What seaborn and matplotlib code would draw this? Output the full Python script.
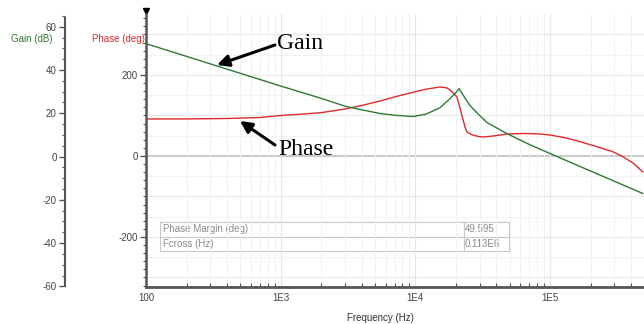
import matplotlib
matplotlib.use("Agg")
import matplotlib.pyplot as plt
import matplotlib.ticker as mticker
import numpy as np
import pandas as pd
import seaborn as sns

# values
gain_freq = [100, 1000, 2000, 3000, 4000, 5460, 7000, 9600, 12000, 15230, 18070, 20000, 21100,
             23000, 25400, 29000, 34000, 47900, 70000, 100000, 200000, 489000]
gain_db = [52.2, 32.6, 26.9, 23.3, 21.6, 19.9, 19.1, 18.5, 19.6, 22.6, 26.8, 29.6, 31.4,
           27.7, 23.6, 19.9, 15.7, 10.6, 5.6, 1.4, -6.7, -17.1]

phase_freq = [100, 200, 400, 700, 1000, 1500, 2000, 3000, 4000, 5460, 7000, 9120, 12000, 15230,
              17180, 18500, 20370, 22000, 23340, 24160, 26000, 29000, 31770, 38000, 47900, 65000,
              84100, 100000, 130000, 166700, 220000, 293000, 350000, 412000, 489000]
phase_deg = [91.4, 91.5, 92.6, 95.0, 100.0, 103.7, 107.0, 116.0, 124.7, 135.8, 145.7, 155.6, 165.0,
             170.4, 168.0, 160.0, 145.7, 103.7, 71.6, 59.3, 53.0, 48.5, 46.9, 49.4, 54.3, 55.6,
             54.3, 51.8, 45.0, 35.3, 23.5, 10.4, -2.5, -17.3, -39.5]

xtick_vals = [100, 1000, 10000, 100000]
xtick_labels = ["100", "1E3", "1E4", "1E5"]

table_rows = [["Phase Margin (deg)", "49.595"], ["Fcross (Hz)", "0.113E6"]]

gain_df = pd.DataFrame({"freq": gain_freq, "gain": gain_db})
phase_df = pd.DataFrame({"freq": phase_freq, "phase": phase_deg})

sns.set_style("white")
plt.rcParams["font.family"] = ["Liberation Sans", "DejaVu Sans"]
plt.rcParams["axes.unicode_minus"] = False

GREEN = "#2e7a34"
RED = "#e0292b"
AXC = "#555555"

fig = plt.figure(figsize=(6.44, 3.24), dpi=100)
ax = fig.add_axes([146 / 644, 1 - 287 / 324, 498 / 644, 273 / 324])
ax2 = ax.twinx()

ax.set_xscale("log")
ax.set_xlim(100, 10 ** (2 + 498 / 134.7))
ax.set_ylim(-323.5, 350.6)
ax2.set_ylim(-60.3, 65.9)

# grid
ax.grid(True, which="major", axis="x", color="#e6e6e6", lw=0.8)
ax.grid(True, which="minor", axis="x", color="#f1f1f1", lw=0.7)
for v in range(-300, 301, 50):
    ax.axhline(v, color="#e8e8e8" if v % 100 == 0 else "#f3f3f3", lw=0.8, zorder=0)
ax.axhline(0, color="#cccccc", lw=1.5, zorder=0)
ax.set_axisbelow(True)

sns.lineplot(data=phase_df, x="freq", y="phase", ax=ax, color=RED, lw=1.0)
sns.lineplot(data=gain_df, x="freq", y="gain", ax=ax2, color=GREEN, lw=1.0)
ax.set_xlabel("")
ax.set_ylabel("")
ax2.set_ylabel("")

# phase axis (inner)
for s in ["top", "right"]:
    ax.spines[s].set_visible(False)
ax.spines["left"].set_color(AXC)
ax.spines["left"].set_linewidth(1.8)
ax.spines["bottom"].set_color(AXC)
ax.spines["bottom"].set_linewidth(2)
ax.yaxis.set_major_locator(mticker.MultipleLocator(200))
ax.yaxis.set_minor_locator(mticker.MultipleLocator(20))
ax.tick_params(axis="y", which="major", length=4, width=1, color=AXC, labelsize=7, labelcolor="#444444", pad=2)
ax.tick_params(axis="y", which="minor", length=2.5, width=0.8, color=AXC, left=True)

ax.xaxis.set_major_locator(mticker.FixedLocator(xtick_vals))
ax.xaxis.set_major_formatter(mticker.FixedFormatter(xtick_labels))
ax.xaxis.set_minor_locator(mticker.LogLocator(base=10, subs=np.arange(2, 10)))
ax.xaxis.set_minor_formatter(mticker.NullFormatter())
ax.tick_params(axis="x", which="major", direction="in", length=4, width=1, color=AXC,
               labelsize=7, labelcolor="#444444", pad=4)
ax.tick_params(axis="x", which="minor", direction="in", length=3, width=0.8, color=AXC, bottom=True)

# gain axis (outer)
for s in ["top", "right", "bottom"]:
    ax2.spines[s].set_visible(False)
ax2.yaxis.set_ticks_position("left")
ax2.spines["left"].set_visible(True)
ax2.spines["left"].set_position(("outward", 81 * 72 / 100))
ax2.spines["left"].set_bounds(-60, 64)
ax2.spines["left"].set_color(AXC)
ax2.spines["left"].set_linewidth(1.5)
ax2.yaxis.set_major_locator(mticker.MultipleLocator(20))
ax2.yaxis.set_minor_locator(mticker.MultipleLocator(5))
ax2.tick_params(axis="y", which="major", length=4, width=1, color=AXC, labelsize=7,
                labelcolor="#444444", pad=2, left=True, right=False, labelleft=True, labelright=False)
ax2.tick_params(axis="y", which="minor", length=2.5, width=0.8, color=AXC, left=True, right=False)

# marker on top of phase spine
ax.plot([0], [1.01], marker="v", color="k", ms=5, transform=ax.transAxes, clip_on=False)

# axis titles
fig.text(32 / 644, 1 - 39 / 324, "Gain (dB)", color=GREEN, fontsize=7, ha="center", va="center")
fig.text(145 / 644, 1 - 39 / 324, "Phase (deg)", color=RED, fontsize=7, ha="right", va="center")
fig.text(380 / 644, 1 - 318 / 324, "Frequency (Hz)", color="#333333", fontsize=7, ha="center", va="center")

# annotations
ax.text(277, 324 - 49, "Gain", transform=None, fontsize=17, family="Liberation Serif",
        ha="left", va="baseline", color="k")
ax.text(278, 324 - 155, "Phase", transform=None, fontsize=17, family="Liberation Serif",
        ha="left", va="baseline", color="k")
arrow = dict(arrowstyle="-|>,head_length=0.7,head_width=0.35", lw=2.2, color="k", shrinkA=0, shrinkB=0)
ax.annotate("", xy=(217, 324 - 65), xytext=(275, 324 - 45), xycoords="figure pixels",
            textcoords="figure pixels", arrowprops=arrow)
ax.annotate("", xy=(240, 324 - 121), xytext=(275, 324 - 145), xycoords="figure pixels",
            textcoords="figure pixels", arrowprops=arrow)

# result table
tbl = ax.table(cellText=table_rows, colWidths=[0.871, 0.129], loc="lower left",
               bbox=[14 / 498, 36 / 273, 349 / 498, 29 / 273], cellLoc="left")
tbl.auto_set_font_size(False)
for (r, c), cell in tbl.get_celld().items():
    cell.set_edgecolor("#c8c8c8")
    cell.set_linewidth(0.8)
    cell.set_facecolor("white")
    cell.get_text().set_color("#8a8a8a")
    cell.get_text().set_fontsize(7)
    cell.PAD = 0.01

fig.savefig("out.png", dpi=100)
